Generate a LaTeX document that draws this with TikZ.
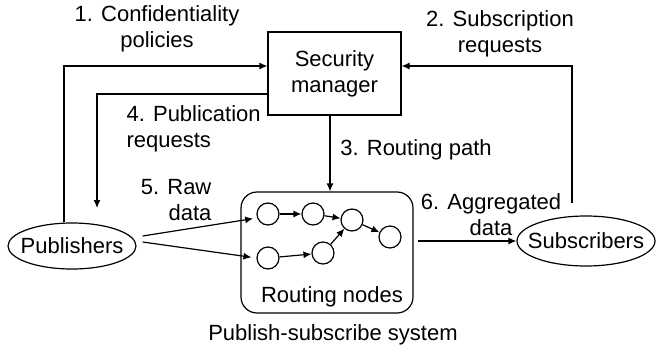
\documentclass[tikz,border=0pt]{standalone}
\usepackage{fontspec}
\setmainfont{Liberation Sans}
\usetikzlibrary{arrows.meta,shapes.geometric}
\begin{document}
\begin{tikzpicture}[x=0.5pt,y=-0.5pt,
  font=\fontsize{11}{13}\selectfont, line width=0.6pt,
  arr/.style={-{Latex[length=4pt,width=3.5pt]}},
  rn/.style={circle,draw,minimum size=11pt,inner sep=0pt},
  lbl/.style={inner sep=0pt,align=center},
  ell/.style={ellipse,draw,inner xsep=-5pt,inner ysep=0pt}]
\useasboundingbox (0,0) rectangle (657,353);

\node[draw,minimum width=66.5pt,minimum height=41.5pt,align=center,inner sep=0pt] (sm) at (334.5,73.5) {Security\\manager};
\node[draw,rounded corners=8pt,minimum width=86pt,minimum height=60.5pt] (rbox) at (327,252.5) {};
\node[ell,minimum width=64pt,minimum height=23pt] (pub) at (72,246) {Publishers};
\node[ell,minimum width=69pt,minimum height=25pt] (sub) at (586,241) {Subscribers};

\node[rn] (c1) at (268,214) {};
\node[rn] (c2) at (313,214) {};
\node[rn] (c3) at (352,220) {};
\node[rn] (c4) at (390,237) {};
\node[rn] (c5) at (268,258) {};
\node[rn] (c6) at (323,253) {};

\node[lbl] (rnl) at (332,297) {Routing nodes};
\node[lbl] (pss) at (333,335) {Publish-subscribe system};

\node[lbl] (l1) at (157,28.5) {1. Confidentiality\\policies};
\node[lbl] (l2) at (500,34) {2. Subscription\\requests};
\node[lbl] (l3) at (416,150) {3. Routing path};
\node[lbl,align=left,anchor=west] (l4) at (126,129) {4. Publication\\requests};
\node[lbl,align=right,anchor=east] (l5) at (212,200) {5. Raw\\data};
\node[lbl] (l6) at (491,215) {6. Aggregated\\data};

\coordinate (p4) at (97,208);
\coordinate (s2) at (572,203);

% 1
\draw[arr] ([shift={(-8,0)}]pub.north) |- ([shift={(0,-7.5)}]sm.west);
% 2
\draw[arr] (s2) |- ([shift={(0,-7.5)}]sm.east);
% 3
\draw[arr] ([shift={(-4.5,0)}]sm.south) -- ([shift={(3,0)}]rbox.north);
% 4
\draw[arr] ([shift={(0,20.5)}]sm.west) -| (p4);
% 5
\draw[arr,shorten >=2pt] ([shift={(6,-10)}]pub.east) -- (c1.200);
\draw[arr,shorten >=2.5pt] ([shift={(6,-4)}]pub.east) -- (c5.west);
% 6
\draw[arr] ([shift={(4,0)}]rbox.east |- sub.west) -- (sub.west);

% inner
\draw[arr] (c1) -- (c2);
\draw[arr] (c2) -- (c3);
\draw[arr] (c3) -- (c4);
\draw[arr] (c5) -- (c6);
\draw[arr] (c6) -- (c3);
\end{tikzpicture}
\end{document}
